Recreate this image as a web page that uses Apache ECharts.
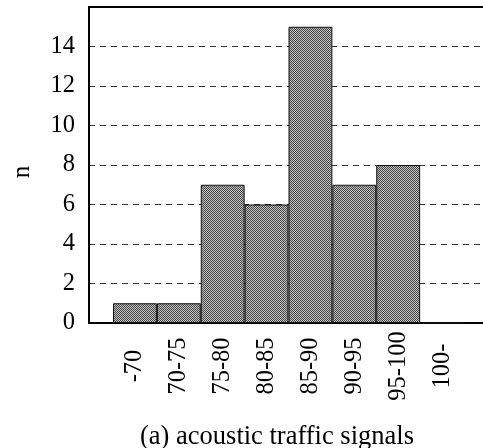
<!DOCTYPE html>
<html>
<head>
<meta charset="utf-8">
<script src="https://cdn.jsdelivr.net/npm/echarts@6/dist/echarts.min.js"></script>
<style>
  html, body { margin: 0; padding: 0; background: #fff; }
  #chart { width: 483px; height: 448px; }
</style>
</head>
<body>
<div id="chart"></div>
<script>
// Sound level bins and number of signals in each
const categories = ['-70', '70-75', '75-80', '80-85', '85-90', '90-95', '95-100', '100-'];
const counts = [1, 1, 7, 6, 15, 7, 8, 0];
const yTicks = [0, 2, 4, 6, 8, 10, 12, 14, 16];
const yAxisName = 'n';
const caption = '(a) acoustic traffic signals';

const FONT = "'Liberation Serif', 'Times New Roman', serif";

// checkerboard halftone fill for the bars
function halftone() {
  const c = document.createElement('canvas');
  c.width = 2; c.height = 2;
  const g = c.getContext('2d');
  g.fillStyle = '#c4c4c4'; g.fillRect(0, 0, 2, 2);
  g.fillStyle = '#444444'; g.fillRect(0, 0, 1, 1); g.fillRect(1, 1, 1, 1);
  return c;
}

const yMin = yTicks[0], yMax = yTicks[yTicks.length - 1], yStep = yTicks[1] - yTicks[0];

const chart = echarts.init(document.getElementById('chart'), null, { renderer: 'canvas' });
chart.setOption({
  animation: false,
  backgroundColor: '#fff',
  title: {
    text: caption,
    left: 272, top: 419, textAlign: 'center',
    textStyle: { fontFamily: FONT, fontSize: 26.5, fontWeight: 'normal', color: '#000' }
  },
  grid: [
    // bars
    { left: 113, right: 19, top: 7, bottom: 125 },
    // frame, grid lines and value labels
    { left: 89, right: -3, top: 7, bottom: 125 }
  ],
  xAxis: [
    {
      type: 'category', gridIndex: 0, data: categories,
      axisLine: { show: false }, axisTick: { show: false },
      axisLabel: {
        rotate: 90, align: 'center', verticalAlign: 'middle', margin: 43,
        fontFamily: FONT, fontSize: 24.5, color: '#000', interval: 0
      }
    },
    {
      type: 'value', gridIndex: 1, min: 0, max: 1, position: 'bottom',
      axisLine: { show: true, lineStyle: { color: '#000', width: 2 } },
      axisTick: { show: false }, axisLabel: { show: false }, splitLine: { show: false }
    },
    {
      type: 'value', gridIndex: 1, min: 0, max: 1, position: 'top',
      axisLine: { show: true, lineStyle: { color: '#000', width: 2 } },
      axisTick: { show: false }, axisLabel: { show: false }, splitLine: { show: false }
    }
  ],
  yAxis: [
    {
      type: 'value', gridIndex: 0, min: yMin, max: yMax, interval: yStep,
      show: false
    },
    {
      type: 'value', gridIndex: 1, min: yMin, max: yMax, interval: yStep,
      name: yAxisName, nameLocation: 'middle', nameGap: 54, nameRotate: 90,
      nameTextStyle: { fontFamily: FONT, fontSize: 25, color: '#000', padding: [0, 14, 0, 0] },
      axisLine: { show: true, lineStyle: { color: '#000', width: 2 } },
      axisTick: { show: false },
      axisLabel: {
        margin: 14, fontFamily: FONT, fontSize: 24.5, color: '#000',
        showMaxLabel: false
      },
      splitLine: {
        show: true, showMinLine: false, showMaxLine: false,
        lineStyle: { color: '#333', width: 1, type: [6, 5] }
      }
    }
  ],
  series: [
    {
      type: 'bar', xAxisIndex: 0, yAxisIndex: 0,
      data: counts, barWidth: '100%', barCategoryGap: 0, z: 5,
      itemStyle: {
        color: { image: halftone(), repeat: 'repeat' },
        borderColor: '#111', borderWidth: 1
      }
    }
  ]
});
</script>
</body>
</html>
